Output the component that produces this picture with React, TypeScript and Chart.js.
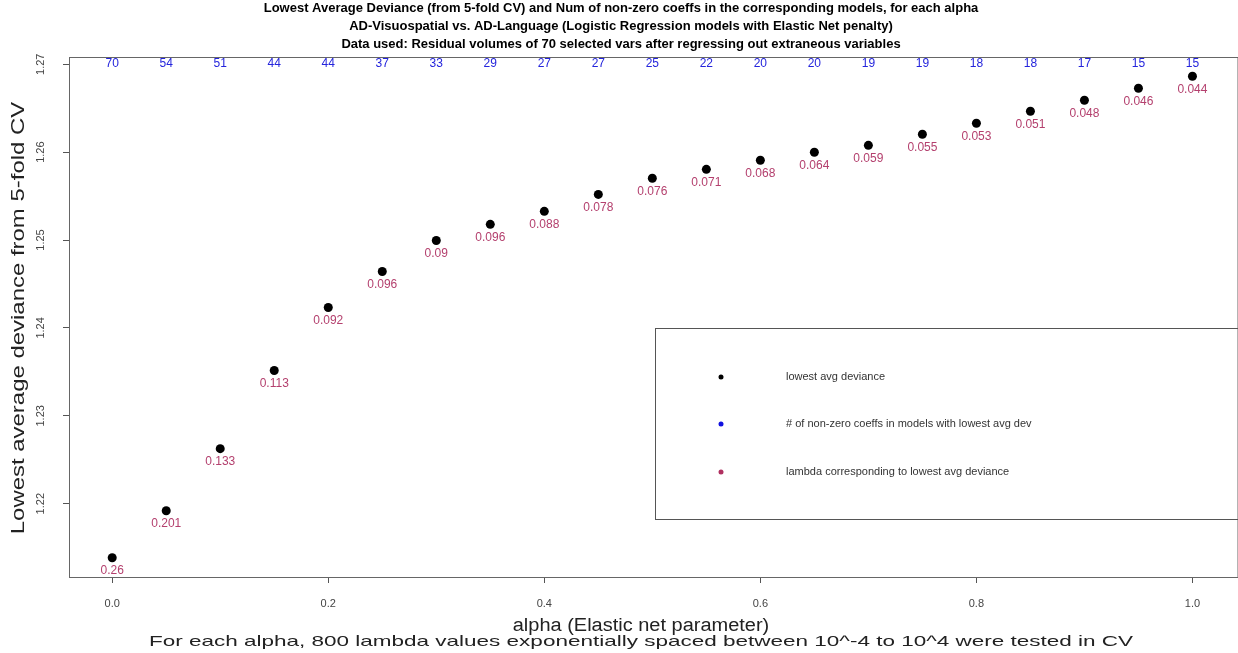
import React, { useEffect, useRef } from "react";
import { Chart, registerables } from "chart.js";

Chart.register(...registerables);

const ALPHAS = [0, 0.05, 0.1, 0.15, 0.2, 0.25, 0.3, 0.35, 0.4, 0.45, 0.5, 0.55, 0.6, 0.65, 0.7, 0.75, 0.8, 0.85, 0.9, 0.95, 1.0];
const DEVIANCE = [1.21385, 1.2192, 1.22626, 1.23515, 1.24232, 1.24642, 1.24995, 1.25178, 1.25326, 1.25519, 1.25702, 1.25804, 1.25907, 1.25998, 1.26077, 1.26203, 1.26328, 1.26465, 1.2659, 1.26727, 1.26863];
const NONZERO = [70, 54, 51, 44, 44, 37, 33, 29, 27, 27, 25, 22, 20, 20, 19, 19, 18, 18, 17, 15, 15];
const LAMBDAS = ["0.26", "0.201", "0.133", "0.113", "0.092", "0.096", "0.09", "0.096", "0.088", "0.078", "0.076", "0.071", "0.068", "0.064", "0.059", "0.055", "0.053", "0.051", "0.048", "0.046", "0.044"];
const X_TICKS = [0, 0.2, 0.4, 0.6, 0.8, 1.0];
const Y_TICKS = [1.22, 1.23, 1.24, 1.25, 1.26, 1.27];
const COUNT_ROW_Y = 1.27;

const TITLE_LINES = [
  "Lowest Average Deviance (from 5-fold CV) and Num of non-zero coeffs in the corresponding models, for each alpha",
  "AD-Visuospatial vs. AD-Language (Logistic Regression models with Elastic Net penalty)",
  "Data used: Residual volumes of 70 selected vars after regressing out extraneous variables",
];
const X_TITLE = "alpha (Elastic net parameter)";
const X_SUB = "For each alpha, 800 lambda values exponentially spaced between 10^-4 to 10^4 were tested in CV";
const Y_TITLE = "Lowest average deviance from 5-fold CV";
const LEGEND_ITEMS = [
  { label: "lowest avg deviance", color: "#000000" },
  { label: "# of non-zero coeffs in models with lowest avg dev", color: "#1010e0" },
  { label: "lambda corresponding to lowest avg deviance", color: "#b03060" },
];

const FONT = "'Liberation Sans', Arial, Helvetica, sans-serif";
const BLUE = "#2424dc";
const MAROON = "#b4406e";

// draw centred text, stretched along its direction by factor sx
function stretchText(ctx: CanvasRenderingContext2D, text: string, x: number, y: number, font: string, sx: number, rot = 0) {
  ctx.save();
  ctx.translate(x, y);
  if (rot) ctx.rotate(rot);
  ctx.scale(sx, 1);
  ctx.font = font;
  ctx.textAlign = "center";
  ctx.textBaseline = "middle";
  ctx.fillText(text, 0, 0);
  ctx.restore();
}

export default function App() {
  const ref = useRef<HTMLCanvasElement | null>(null);

  useEffect(() => {
    document.body.style.margin = "0";
    const canvas = ref.current;
    if (!canvas) return;

    const lo = Math.min(...DEVIANCE);
    const hi = Math.max(...DEVIANCE);
    const ext = (hi - lo) * 0.04;

    const decor = {
      id: "decor",
      afterDraw(chart: any) {
        const ctx = chart.ctx as CanvasRenderingContext2D;
        const { left, right, top, bottom } = chart.chartArea;
        const xs = chart.scales.x;
        const ys = chart.scales.y;
        ctx.save();

        // plot box
        ctx.strokeStyle = "#666";
        ctx.lineWidth = 1;
        ctx.strokeRect(Math.round(left) + 0.5, Math.round(top) + 0.5, right + 4 - left, Math.round(bottom - top));

        // title
        ctx.fillStyle = "#000";
        const ty = [8, 26, 44];
        TITLE_LINES.forEach((t, i) => stretchText(ctx, t, 621, ty[i], `bold 13px ${FONT}`, 1.0));

        // y tick labels (rotated)
        ctx.fillStyle = "#444";
        Y_TICKS.forEach((v) => {
          stretchText(ctx, v.toFixed(2), 41, ys.getPixelForValue(v), `11px ${FONT}`, 1.0, -Math.PI / 2);
        });

        // y title
        ctx.fillStyle = "#222";
        stretchText(ctx, Y_TITLE, 19, 318, `19px ${FONT}`, 1.26, -Math.PI / 2);

        // x title + subtitle
        stretchText(ctx, X_TITLE, 641, 626, `18px ${FONT}`, 1.11);
        stretchText(ctx, X_SUB, 641, 642, `15px ${FONT}`, 1.5);

        // counts row
        ctx.textAlign = "center";
        ctx.textBaseline = "middle";
        ctx.fillStyle = BLUE;
        ctx.font = `12px ${FONT}`;
        const cy = ys.getPixelForValue(COUNT_ROW_Y) - 1;
        ALPHAS.forEach((a, i) => {
          ctx.fillText(String(NONZERO[i]), xs.getPixelForValue(a), cy);
        });

        // lambda labels
        ctx.fillStyle = MAROON;
        ALPHAS.forEach((a, i) => {
          ctx.fillText(LAMBDAS[i], xs.getPixelForValue(a), ys.getPixelForValue(DEVIANCE[i]) + 13);
        });

        // legend
        const lx = 655, ltop = 328, lbottom = 519;
        ctx.strokeStyle = "#555";
        ctx.strokeRect(lx + 0.5, ltop + 0.5, 1300 - lx, lbottom - ltop);
        const rows = [377, 424, 472];
        ctx.font = `11px ${FONT}`;
        ctx.textAlign = "left";
        LEGEND_ITEMS.forEach((it, i) => {
          ctx.fillStyle = it.color;
          ctx.beginPath();
          ctx.arc(721, rows[i], 2.5, 0, Math.PI * 2);
          ctx.fill();
          ctx.fillStyle = "#333";
          ctx.fillText(it.label, 786, rows[i]);
        });

        ctx.restore();
      },
    };

    const chart = new Chart(canvas, {
      type: "scatter",
      data: {
        datasets: [
          {
            label: "lowest avg deviance",
            data: ALPHAS.map((a, i) => ({ x: a, y: DEVIANCE[i] })),
            pointRadius: 4.5,
            pointHoverRadius: 4.5,
            backgroundColor: "#000",
            borderColor: "#000",
            borderWidth: 0,
          },
        ],
      },
      options: {
        animation: false,
        responsive: false,
        maintainAspectRatio: false,
        layout: { padding: { top: 57, left: 0, right: 0, bottom: 0 } },
        plugins: { legend: { display: false }, tooltip: { enabled: false }, title: { display: false } },
        scales: {
          x: {
            type: "linear",
            min: -0.04,
            max: 1.038,
            afterBuildTicks: (s: any) => {
              s.ticks = X_TICKS.map((v) => ({ value: v }));
            },
            afterFit: (s: any) => {
              s.height = 76;
            },
            grid: { drawOnChartArea: false, drawTicks: true, tickLength: 6, color: "#555", tickColor: "#555" },
            border: { display: false },
            ticks: {
              color: "#444",
              font: { family: FONT, size: 11 },
              padding: 14,
              maxRotation: 0,
              minRotation: 0,
              callback: (v: any) => Number(v).toFixed(1),
            },
          },
          y: {
            type: "linear",
            min: lo - ext,
            max: hi + ext,
            afterBuildTicks: (s: any) => {
              s.ticks = Y_TICKS.map((v) => ({ value: v }));
            },
            afterFit: (s: any) => {
              s.width = 69;
            },
            grid: { drawOnChartArea: false, drawTicks: true, tickLength: 6, color: "#555", tickColor: "#555" },
            border: { display: false },
            ticks: { display: false },
          },
        },
      },
      plugins: [decor],
    });

    return () => chart.destroy();
  }, []);

  return (
    <div style={{ position: "absolute", left: 0, top: 0, width: 1238, height: 653, background: "#fff" }}>
      <canvas ref={ref} width={1238} height={653} style={{ display: "block" }} />
    </div>
  );
}
